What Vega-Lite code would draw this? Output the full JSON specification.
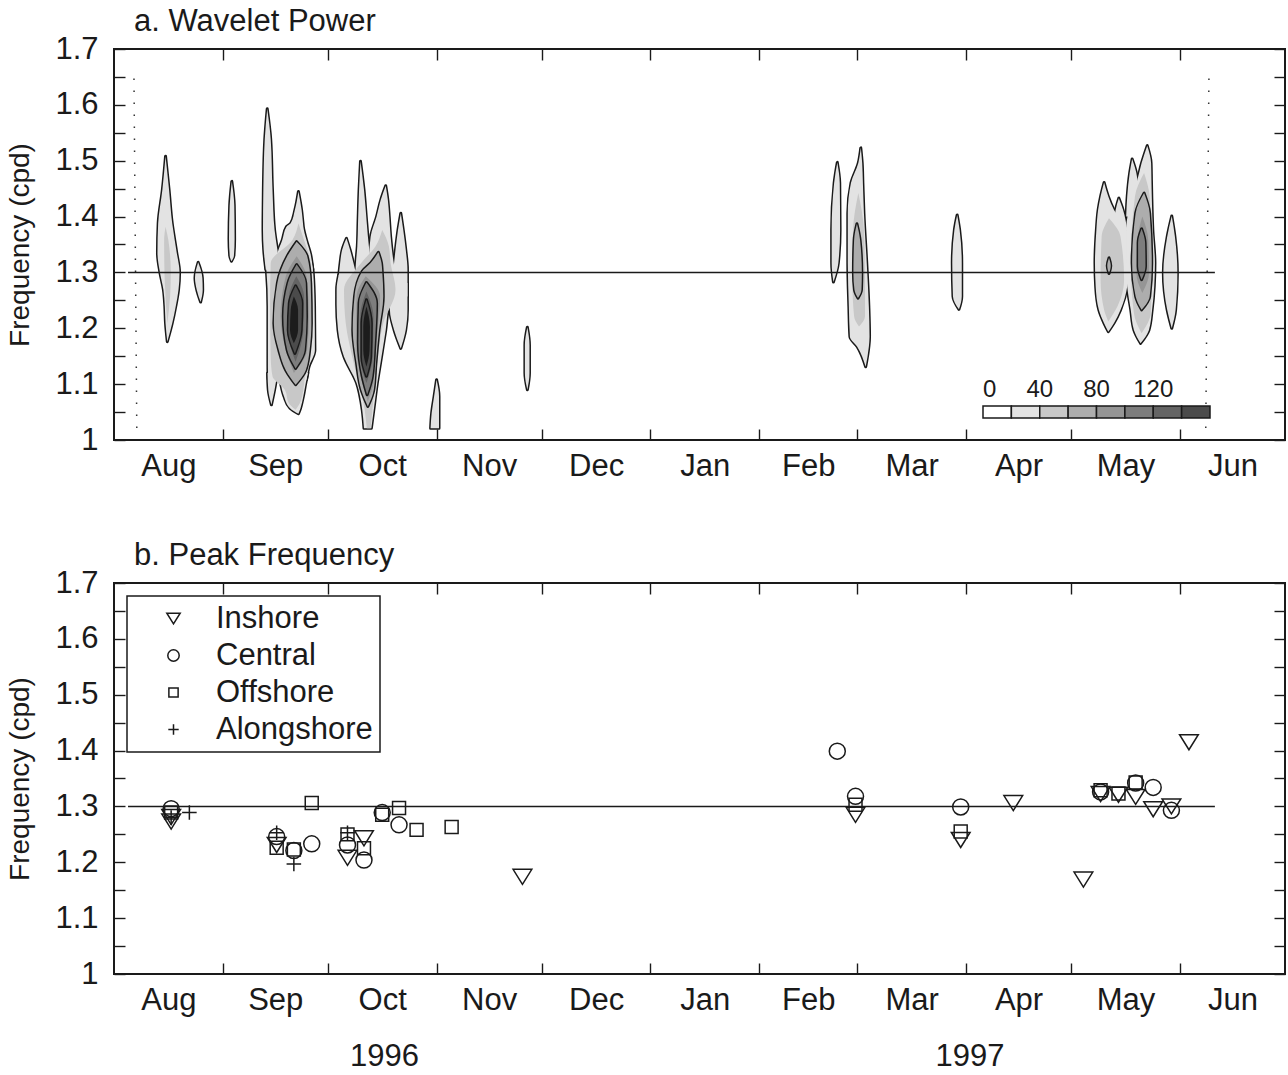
{
  "$schema": "https://vega.github.io/schema/vega-lite/v6.json",
  "background": "white",
  "padding": {"left": 5, "top": 5, "right": 0, "bottom": 0},
  "bounds": "flush",
  "spacing": 143,
  "config": {
    "font": "Liberation Sans",
    "view": {"stroke": "#1a1a1a", "strokeWidth": 2},
    "axis": {
      "domain": false, "grid": false, "ticks": true, "tickSize": -11, "tickWidth": 1.4, "tickColor": "#1a1a1a",
      "labelFont": "Liberation Sans", "labelFontSize": 31, "labelColor": "#1a1a1a", "labelFlush": false, "labelOverlap": false,
      "titleFont": "Liberation Sans", "titleFontSize": 28, "titleFontWeight": "normal", "titleColor": "#1a1a1a"
    },
    "title": {"font": "Liberation Sans", "fontSize": 31, "fontWeight": "normal", "color": "#1a1a1a", "anchor": "start", "frame": "group"},
    "legend": {"labelFont": "Liberation Sans", "labelColor": "#1a1a1a", "strokeWidth": 1.5}
  },
  "resolve": {"scale": {"fill": "independent", "shape": "independent"}, "legend": {"fill": "independent", "shape": "independent"}},
  "datasets": {
    "coi": [
      {"d0": 5.7, "d1": 6.5, "f0": 1.647, "f1": 1.021},
      {"d0": 312.3, "d1": 311.4, "f0": 1.647, "f1": 1.021}
    ],
    "ref": [{"d0": 4, "d1": 314, "f": 1.3}],
    "power": [
      {"id":"a1","p":30,"f":1.508,"t0":14.7,"t1":14.7},
      {"id":"a1","p":30,"f":1.448,"t0":13.8,"t1":15.7},
      {"id":"a1","p":30,"f":1.388,"t0":12.6,"t1":16.6},
      {"id":"a1","p":30,"f":1.335,"t0":12.4,"t1":17.9},
      {"id":"a1","p":30,"f":1.3,"t0":13.1,"t1":18.7},
      {"id":"a1","p":30,"f":1.269,"t0":14.1,"t1":18.4},
      {"id":"a1","p":30,"f":1.239,"t0":14.5,"t1":17.6},
      {"id":"a1","p":30,"f":1.209,"t0":14.7,"t1":16.6},
      {"id":"a1","p":30,"f":1.176,"t0":15.2,"t1":15.2},
      {"id":"a1","p":50,"f":1.382,"t0":14.7,"t1":14.7},
      {"id":"a1","p":50,"f":1.358,"t0":14.3,"t1":15.5},
      {"id":"a1","p":50,"f":1.3,"t0":14.4,"t1":16.2},
      {"id":"a1","p":50,"f":1.257,"t0":14.7,"t1":16.0},
      {"id":"a1","p":50,"f":1.209,"t0":15.2,"t1":15.2},
      {"id":"a2","p":30,"f":1.318,"t0":24.0,"t1":24.0},
      {"id":"a2","p":30,"f":1.29,"t0":23.1,"t1":25.2},
      {"id":"a2","p":30,"f":1.269,"t0":23.6,"t1":25.3},
      {"id":"a2","p":30,"f":1.247,"t0":24.7,"t1":24.7},
      {"id":"a3","p":30,"f":1.463,"t0":33.6,"t1":33.6},
      {"id":"a3","p":30,"f":1.42,"t0":33.0,"t1":34.3},
      {"id":"a3","p":30,"f":1.36,"t0":32.8,"t1":34.4},
      {"id":"a3","p":30,"f":1.33,"t0":33.0,"t1":34.2},
      {"id":"a3","p":30,"f":1.32,"t0":33.5,"t1":33.5},

      {"id":"s1","p":30,"f":1.593,"t0":43.7,"t1":43.7},
      {"id":"s1","p":30,"f":1.538,"t0":43.0,"t1":44.7},
      {"id":"s1","p":30,"f":1.448,"t0":42.6,"t1":45.2},
      {"id":"s1","p":30,"f":1.376,"t0":42.5,"t1":45.8},
      {"id":"s1","p":30,"f":1.341,"t0":42.7,"t1":46.6},
      {"id":"s1","p":30,"f":1.305,"t0":43.3,"t1":47.5},
      {"id":"s2","p":30,"f":1.445,"t0":52.6,"t1":52.6},
      {"id":"s2","p":30,"f":1.412,"t0":51.6,"t1":53.5},
      {"id":"s2","p":30,"f":1.388,"t0":50.4,"t1":53.9},
      {"id":"s2","p":30,"f":1.382,"t0":49.2,"t1":54.0},
      {"id":"s2","p":30,"f":1.358,"t0":48.0,"t1":54.9},
      {"id":"s2","p":30,"f":1.332,"t0":46.6,"t1":56.1},
      {"id":"s2","p":30,"f":1.305,"t0":46.4,"t1":56.7},
      {"id":"sb","p":30,"f":1.329,"t0":43.0,"t1":55.9},
      {"id":"sb","p":30,"f":1.301,"t0":43.5,"t1":56.8},
      {"id":"sb","p":30,"f":1.239,"t0":43.9,"t1":57.2},
      {"id":"sb","p":30,"f":1.161,"t0":43.9,"t1":57.3},
      {"id":"sb","p":30,"f":1.131,"t0":43.9,"t1":55.6},
      {"id":"sb","p":30,"f":1.108,"t0":44.0,"t1":54.9},
      {"id":"sl","p":30,"f":1.12,"t0":43.8,"t1":46.6},
      {"id":"sl","p":30,"f":1.09,"t0":44.0,"t1":45.8},
      {"id":"sl","p":30,"f":1.063,"t0":44.9,"t1":44.9},
      {"id":"sr","p":30,"f":1.12,"t0":47.0,"t1":55.3},
      {"id":"sr","p":30,"f":1.102,"t0":47.5,"t1":54.7},
      {"id":"sr","p":30,"f":1.078,"t0":48.5,"t1":54.0},
      {"id":"sr","p":30,"f":1.057,"t0":50.2,"t1":53.2},
      {"id":"sr","p":30,"f":1.047,"t0":52.6,"t1":52.6},
      {"id":"s","p":50,"f":1.388,"t0":52.6,"t1":52.6},
      {"id":"s","p":50,"f":1.358,"t0":50.9,"t1":54.2},
      {"id":"s","p":50,"f":1.317,"t0":44.7,"t1":56.1},
      {"id":"s","p":50,"f":1.239,"t0":44.5,"t1":56.8},
      {"id":"s","p":50,"f":1.149,"t0":44.7,"t1":56.0},
      {"id":"s","p":50,"f":1.114,"t0":45.2,"t1":54.5},
      {"id":"s","p":50,"f":1.09,"t0":48.7,"t1":54.0},
      {"id":"s","p":50,"f":1.066,"t0":49.9,"t1":53.0},
      {"id":"s","p":50,"f":1.054,"t0":51.8,"t1":51.8},
      {"id":"s","p":70,"f":1.355,"t0":52.1,"t1":52.1},
      {"id":"s","p":70,"f":1.329,"t0":49.4,"t1":55.1},
      {"id":"s","p":70,"f":1.281,"t0":46.6,"t1":56.1},
      {"id":"s","p":70,"f":1.209,"t0":45.6,"t1":56.3},
      {"id":"s","p":70,"f":1.161,"t0":47.0,"t1":55.8},
      {"id":"s","p":70,"f":1.125,"t0":49.0,"t1":54.7},
      {"id":"s","p":70,"f":1.099,"t0":51.8,"t1":51.8},
      {"id":"s","p":90,"f":1.329,"t0":52.1,"t1":52.1},
      {"id":"s","p":90,"f":1.293,"t0":49.0,"t1":54.9},
      {"id":"s","p":90,"f":1.221,"t0":47.5,"t1":55.6},
      {"id":"s","p":90,"f":1.161,"t0":49.0,"t1":55.1},
      {"id":"s","p":90,"f":1.12,"t0":51.3,"t1":51.3},
      {"id":"s","p":110,"f":1.314,"t0":52.1,"t1":52.1},
      {"id":"s","p":110,"f":1.281,"t0":49.6,"t1":54.7},
      {"id":"s","p":110,"f":1.221,"t0":48.3,"t1":54.9},
      {"id":"s","p":110,"f":1.161,"t0":49.4,"t1":54.4},
      {"id":"s","p":110,"f":1.128,"t0":51.8,"t1":51.8},
      {"id":"s","p":130,"f":1.293,"t0":52.0,"t1":52.0},
      {"id":"s","p":130,"f":1.257,"t0":49.9,"t1":54.2},
      {"id":"s","p":130,"f":1.197,"t0":49.6,"t1":54.0},
      {"id":"s","p":130,"f":1.14,"t0":51.8,"t1":51.8},
      {"id":"s","p":150,"f":1.276,"t0":51.8,"t1":51.8},
      {"id":"s","p":150,"f":1.245,"t0":50.0,"t1":53.6},
      {"id":"s","p":150,"f":1.197,"t0":49.7,"t1":53.4},
      {"id":"s","p":150,"f":1.155,"t0":51.6,"t1":51.6},
      {"id":"s","p":170,"f":1.257,"t0":51.3,"t1":51.3},
      {"id":"s","p":170,"f":1.233,"t0":50.4,"t1":52.5},
      {"id":"s","p":170,"f":1.197,"t0":50.2,"t1":52.5},
      {"id":"s","p":170,"f":1.173,"t0":51.3,"t1":51.3},

      {"id":"ol","p":30,"f":1.361,"t0":66.3,"t1":66.3},
      {"id":"ol","p":30,"f":1.341,"t0":65.1,"t1":67.3},
      {"id":"ol","p":30,"f":1.317,"t0":64.5,"t1":68.3},
      {"id":"ol","p":30,"f":1.293,"t0":64.1,"t1":69.2},
      {"id":"om","p":30,"f":1.499,"t0":70.3,"t1":70.3},
      {"id":"om","p":30,"f":1.448,"t0":69.9,"t1":71.3},
      {"id":"om","p":30,"f":1.388,"t0":69.6,"t1":72.1},
      {"id":"om","p":30,"f":1.347,"t0":69.4,"t1":72.7},
      {"id":"om","p":30,"f":1.317,"t0":69.0,"t1":73.4},
      {"id":"om","p":30,"f":1.293,"t0":68.8,"t1":74.1},
      {"id":"o8","p":30,"f":1.455,"t0":77.5,"t1":77.5},
      {"id":"o8","p":30,"f":1.43,"t0":76.1,"t1":78.1},
      {"id":"o8","p":30,"f":1.4,"t0":74.9,"t1":78.5},
      {"id":"o8","p":30,"f":1.364,"t0":73.2,"t1":78.9},
      {"id":"o8","p":30,"f":1.329,"t0":72.8,"t1":79.5},
      {"id":"o8","p":30,"f":1.293,"t0":72.8,"t1":80.4},
      {"id":"o9","p":30,"f":1.406,"t0":81.8,"t1":81.8},
      {"id":"o9","p":30,"f":1.376,"t0":81.0,"t1":82.5},
      {"id":"o9","p":30,"f":1.341,"t0":80.3,"t1":83.2},
      {"id":"o9","p":30,"f":1.305,"t0":79.7,"t1":83.7},
      {"id":"o9","p":30,"f":1.257,"t0":79.0,"t1":83.7},
      {"id":"ob","p":30,"f":1.296,"t0":64.1,"t1":82.7},
      {"id":"ob","p":30,"f":1.269,"t0":63.5,"t1":80.8},
      {"id":"ob","p":30,"f":1.242,"t0":63.5,"t1":78.5},
      {"id":"ob","p":30,"f":1.197,"t0":63.9,"t1":77.5},
      {"id":"ob","p":30,"f":1.149,"t0":65.6,"t1":76.3},
      {"id":"ob","p":30,"f":1.102,"t0":69.2,"t1":75.1},
      {"id":"ob","p":30,"f":1.054,"t0":70.8,"t1":74.1},
      {"id":"ob","p":30,"f":1.021,"t0":71.3,"t1":73.4},
      {"id":"or","p":30,"f":1.281,"t0":79.2,"t1":83.7},
      {"id":"or","p":30,"f":1.233,"t0":78.7,"t1":83.7},
      {"id":"or","p":30,"f":1.197,"t0":79.9,"t1":83.2},
      {"id":"or","p":30,"f":1.164,"t0":81.8,"t1":81.8},
      {"id":"o","p":50,"f":1.376,"t0":76.5,"t1":76.5},
      {"id":"o","p":50,"f":1.347,"t0":74.6,"t1":78.4},
      {"id":"o","p":50,"f":1.317,"t0":70.5,"t1":78.9},
      {"id":"o","p":50,"f":1.269,"t0":65.6,"t1":80.3},
      {"id":"o","p":50,"f":1.209,"t0":66.1,"t1":76.8},
      {"id":"o","p":50,"f":1.137,"t0":68.4,"t1":75.1},
      {"id":"o","p":50,"f":1.054,"t0":71.5,"t1":73.7},
      {"id":"o","p":50,"f":1.021,"t0":72.1,"t1":73.2},
      {"id":"o","p":70,"f":1.336,"t0":75.4,"t1":75.4},
      {"id":"o","p":70,"f":1.317,"t0":73.2,"t1":76.3},
      {"id":"o","p":70,"f":1.302,"t0":70.8,"t1":76.5},
      {"id":"o","p":70,"f":1.257,"t0":68.6,"t1":76.8},
      {"id":"o","p":70,"f":1.197,"t0":68.1,"t1":75.6},
      {"id":"o","p":70,"f":1.137,"t0":69.2,"t1":74.7},
      {"id":"o","p":70,"f":1.09,"t0":70.5,"t1":74.1},
      {"id":"o","p":70,"f":1.06,"t0":72.4,"t1":72.4},
      {"id":"o","p":90,"f":1.293,"t0":71.8,"t1":71.8},
      {"id":"o","p":90,"f":1.257,"t0":69.2,"t1":75.9},
      {"id":"o","p":90,"f":1.179,"t0":69.0,"t1":74.9},
      {"id":"o","p":90,"f":1.102,"t0":70.8,"t1":74.0},
      {"id":"o","p":90,"f":1.069,"t0":72.4,"t1":72.4},
      {"id":"o","p":110,"f":1.282,"t0":72.0,"t1":72.0},
      {"id":"o","p":110,"f":1.245,"t0":69.9,"t1":74.9},
      {"id":"o","p":110,"f":1.173,"t0":69.7,"t1":74.4},
      {"id":"o","p":110,"f":1.114,"t0":70.8,"t1":73.7},
      {"id":"o","p":110,"f":1.081,"t0":72.2,"t1":72.2},
      {"id":"o","p":130,"f":1.266,"t0":72.0,"t1":72.0},
      {"id":"o","p":130,"f":1.221,"t0":70.2,"t1":74.0},
      {"id":"o","p":130,"f":1.149,"t0":70.2,"t1":73.8},
      {"id":"o","p":130,"f":1.102,"t0":72.0,"t1":72.0},
      {"id":"o","p":150,"f":1.251,"t0":72.0,"t1":72.0},
      {"id":"o","p":150,"f":1.209,"t0":70.7,"t1":73.4},
      {"id":"o","p":150,"f":1.149,"t0":70.7,"t1":73.2},
      {"id":"o","p":150,"f":1.114,"t0":72.0,"t1":72.0},
      {"id":"o","p":170,"f":1.239,"t0":72.0,"t1":72.0},
      {"id":"o","p":170,"f":1.203,"t0":71.1,"t1":73.0},
      {"id":"o","p":170,"f":1.161,"t0":71.1,"t1":72.9},
      {"id":"o","p":170,"f":1.131,"t0":72.0,"t1":72.0},

      {"id":"n1","p":30,"f":1.108,"t0":92.0,"t1":92.0},
      {"id":"n1","p":30,"f":1.078,"t0":91.3,"t1":92.7},
      {"id":"n1","p":30,"f":1.048,"t0":90.6,"t1":92.7},
      {"id":"n1","p":30,"f":1.021,"t0":90.3,"t1":92.7},
      {"id":"n2","p":30,"f":1.202,"t0":117.9,"t1":117.9},
      {"id":"n2","p":30,"f":1.17,"t0":117.2,"t1":118.5},
      {"id":"n2","p":30,"f":1.12,"t0":117.2,"t1":118.5},
      {"id":"n2","p":30,"f":1.09,"t0":117.9,"t1":117.9},

      {"id":"f1","p":30,"f":1.497,"t0":206.3,"t1":206.3},
      {"id":"f1","p":30,"f":1.46,"t0":205.4,"t1":207.0},
      {"id":"f1","p":30,"f":1.376,"t0":204.7,"t1":207.1},
      {"id":"f1","p":30,"f":1.317,"t0":204.7,"t1":206.6},
      {"id":"f1","p":30,"f":1.283,"t0":205.2,"t1":205.2},
      {"id":"f2","p":30,"f":1.523,"t0":213.0,"t1":213.0},
      {"id":"f2","p":30,"f":1.496,"t0":212.3,"t1":213.4},
      {"id":"f2","p":30,"f":1.46,"t0":210.2,"t1":213.6},
      {"id":"f2","p":30,"f":1.406,"t0":209.3,"t1":213.9},
      {"id":"f2","p":30,"f":1.317,"t0":209.3,"t1":214.7},
      {"id":"f2","p":30,"f":1.239,"t0":209.6,"t1":215.3},
      {"id":"f2","p":30,"f":1.185,"t0":209.9,"t1":215.5},
      {"id":"f2","p":30,"f":1.167,"t0":212.0,"t1":215.3},
      {"id":"f2","p":30,"f":1.131,"t0":214.4,"t1":214.4},
      {"id":"f2","p":50,"f":1.442,"t0":212.3,"t1":212.3},
      {"id":"f2","p":50,"f":1.376,"t0":210.8,"t1":213.9},
      {"id":"f2","p":50,"f":1.287,"t0":210.6,"t1":214.2},
      {"id":"f2","p":50,"f":1.221,"t0":211.1,"t1":214.2},
      {"id":"f2","p":50,"f":1.203,"t0":212.5,"t1":212.5},
      {"id":"f2","p":70,"f":1.387,"t0":211.9,"t1":211.9},
      {"id":"f2","p":70,"f":1.358,"t0":211.1,"t1":212.8},
      {"id":"f2","p":70,"f":1.299,"t0":210.9,"t1":213.3},
      {"id":"f2","p":70,"f":1.269,"t0":211.2,"t1":213.2},
      {"id":"f2","p":70,"f":1.254,"t0":212.2,"t1":212.2},

      {"id":"m1","p":30,"f":1.403,"t0":240.5,"t1":240.5},
      {"id":"m1","p":30,"f":1.376,"t0":239.7,"t1":241.2},
      {"id":"m1","p":30,"f":1.317,"t0":239.1,"t1":241.8},
      {"id":"m1","p":30,"f":1.257,"t0":239.3,"t1":241.8},
      {"id":"m1","p":30,"f":1.234,"t0":241.0,"t1":241.0},

      {"id":"yl","p":30,"f":1.461,"t0":282.4,"t1":282.4},
      {"id":"yl","p":30,"f":1.436,"t0":281.4,"t1":283.6},
      {"id":"yl","p":30,"f":1.412,"t0":280.7,"t1":285.2},
      {"id":"yl","p":30,"f":1.376,"t0":280.2,"t1":288.9},
      {"id":"yl","p":30,"f":1.317,"t0":279.8,"t1":289.5},
      {"id":"yl","p":30,"f":1.275,"t0":280.0,"t1":289.0},
      {"id":"yl","p":30,"f":1.233,"t0":280.9,"t1":287.1},
      {"id":"yl","p":30,"f":1.209,"t0":282.4,"t1":285.2},
      {"id":"yl","p":30,"f":1.194,"t0":283.6,"t1":283.6},
      {"id":"yb","p":30,"f":1.433,"t0":286.6,"t1":286.6},
      {"id":"yb","p":30,"f":1.412,"t0":285.7,"t1":287.8},
      {"id":"yb","p":30,"f":1.376,"t0":285.2,"t1":289.0},
      {"id":"yt","p":30,"f":1.503,"t0":290.4,"t1":290.4},
      {"id":"yt","p":30,"f":1.478,"t0":289.7,"t1":291.6},
      {"id":"yt","p":30,"f":1.436,"t0":289.0,"t1":292.3},
      {"id":"yt","p":30,"f":1.4,"t0":288.7,"t1":293.0},
      {"id":"yr","p":30,"f":1.527,"t0":294.7,"t1":294.7},
      {"id":"yr","p":30,"f":1.496,"t0":293.1,"t1":295.8},
      {"id":"yr","p":30,"f":1.466,"t0":291.9,"t1":295.9},
      {"id":"yr","p":30,"f":1.436,"t0":290.4,"t1":296.0},
      {"id":"yr","p":30,"f":1.376,"t0":288.7,"t1":296.3},
      {"id":"yr","p":30,"f":1.317,"t0":288.7,"t1":296.9},
      {"id":"yr","p":30,"f":1.275,"t0":289.0,"t1":296.7},
      {"id":"yr","p":30,"f":1.233,"t0":290.0,"t1":296.1},
      {"id":"yr","p":30,"f":1.197,"t0":290.9,"t1":295.2},
      {"id":"yr","p":30,"f":1.173,"t0":292.8,"t1":292.8},
      {"id":"yl","p":50,"f":1.397,"t0":283.8,"t1":283.8},
      {"id":"yl","p":50,"f":1.364,"t0":281.7,"t1":287.1},
      {"id":"yl","p":50,"f":1.287,"t0":281.4,"t1":288.1},
      {"id":"yl","p":50,"f":1.233,"t0":282.4,"t1":285.7},
      {"id":"yl","p":50,"f":1.212,"t0":283.6,"t1":283.6},
      {"id":"yr","p":50,"f":1.478,"t0":293.8,"t1":293.8},
      {"id":"yr","p":50,"f":1.436,"t0":291.2,"t1":295.4},
      {"id":"yr","p":50,"f":1.317,"t0":290.0,"t1":296.1},
      {"id":"yr","p":50,"f":1.227,"t0":290.9,"t1":295.7},
      {"id":"yr","p":50,"f":1.191,"t0":293.1,"t1":293.1},
      {"id":"yr","p":70,"f":1.442,"t0":293.8,"t1":293.8},
      {"id":"yr","p":70,"f":1.406,"t0":291.4,"t1":295.4},
      {"id":"yr","p":70,"f":1.317,"t0":290.4,"t1":296.0},
      {"id":"yr","p":70,"f":1.257,"t0":291.4,"t1":295.4},
      {"id":"yr","p":70,"f":1.233,"t0":293.1,"t1":293.1},
      {"id":"ys","p":70,"f":1.326,"t0":283.8,"t1":283.8},
      {"id":"ys","p":70,"f":1.312,"t0":283.3,"t1":284.3},
      {"id":"ys","p":70,"f":1.298,"t0":283.8,"t1":283.8},
      {"id":"yr","p":90,"f":1.4,"t0":293.3,"t1":293.3},
      {"id":"yr","p":90,"f":1.358,"t0":291.9,"t1":295.0},
      {"id":"yr","p":90,"f":1.299,"t0":291.6,"t1":295.2},
      {"id":"yr","p":90,"f":1.263,"t0":293.3,"t1":293.3},
      {"id":"yr","p":110,"f":1.378,"t0":293.1,"t1":293.1},
      {"id":"yr","p":110,"f":1.353,"t0":292.1,"t1":294.1},
      {"id":"yr","p":110,"f":1.311,"t0":292.1,"t1":294.2},
      {"id":"yr","p":110,"f":1.287,"t0":293.1,"t1":293.1},
      {"id":"yx","p":30,"f":1.401,"t0":301.7,"t1":301.7},
      {"id":"yx","p":30,"f":1.364,"t0":300.4,"t1":302.6},
      {"id":"yx","p":30,"f":1.299,"t0":299.3,"t1":303.3},
      {"id":"yx","p":30,"f":1.233,"t0":300.4,"t1":302.8},
      {"id":"yx","p":30,"f":1.2,"t0":301.7,"t1":301.7}
    ],
    "peaks": [
      {"loc":"Inshore","day":16.3,"f":1.281},
      {"loc":"Inshore","day":16.3,"f":1.273},
      {"loc":"Inshore","day":46.4,"f":1.231},
      {"loc":"Inshore","day":66.6,"f":1.208},
      {"loc":"Inshore","day":71.3,"f":1.243},
      {"loc":"Inshore","day":116.5,"f":1.174},
      {"loc":"Inshore","day":211.5,"f":1.285},
      {"loc":"Inshore","day":241.5,"f":1.24},
      {"loc":"Inshore","day":256.5,"f":1.306},
      {"loc":"Inshore","day":276.5,"f":1.169},
      {"loc":"Inshore","day":281.4,"f":1.322},
      {"loc":"Inshore","day":286.5,"f":1.321},
      {"loc":"Inshore","day":291.4,"f":1.317},
      {"loc":"Inshore","day":296.4,"f":1.295},
      {"loc":"Inshore","day":301.6,"f":1.3},
      {"loc":"Inshore","day":306.6,"f":1.415},
      {"loc":"Central","day":16.3,"f":1.296},
      {"loc":"Central","day":46.4,"f":1.246},
      {"loc":"Central","day":51.3,"f":1.221},
      {"loc":"Central","day":56.4,"f":1.233},
      {"loc":"Central","day":66.6,"f":1.231},
      {"loc":"Central","day":71.3,"f":1.204},
      {"loc":"Central","day":76.5,"f":1.289},
      {"loc":"Central","day":81.3,"f":1.267},
      {"loc":"Central","day":206.3,"f":1.399},
      {"loc":"Central","day":211.5,"f":1.318},
      {"loc":"Central","day":241.5,"f":1.299},
      {"loc":"Central","day":281.4,"f":1.326},
      {"loc":"Central","day":291.4,"f":1.342},
      {"loc":"Central","day":296.4,"f":1.334},
      {"loc":"Central","day":301.6,"f":1.293},
      {"loc":"Offshore","day":16.3,"f":1.289},
      {"loc":"Offshore","day":46.4,"f":1.226},
      {"loc":"Offshore","day":51.3,"f":1.223},
      {"loc":"Offshore","day":56.4,"f":1.306},
      {"loc":"Offshore","day":66.6,"f":1.25},
      {"loc":"Offshore","day":71.3,"f":1.225},
      {"loc":"Offshore","day":76.5,"f":1.285},
      {"loc":"Offshore","day":81.3,"f":1.297},
      {"loc":"Offshore","day":86.3,"f":1.258},
      {"loc":"Offshore","day":96.3,"f":1.263},
      {"loc":"Offshore","day":211.5,"f":1.303},
      {"loc":"Offshore","day":241.5,"f":1.255},
      {"loc":"Offshore","day":281.4,"f":1.329},
      {"loc":"Offshore","day":286.5,"f":1.323},
      {"loc":"Offshore","day":291.4,"f":1.343},
      {"loc":"Alongshore","day":16.3,"f":1.28},
      {"loc":"Alongshore","day":21.5,"f":1.289},
      {"loc":"Alongshore","day":46.4,"f":1.253},
      {"loc":"Alongshore","day":51.3,"f":1.197},
      {"loc":"Alongshore","day":66.6,"f":1.253}
    ]
  },
  "vconcat": [
    {
      "width": 1171,
      "height": 391,
      "title": {"text": "a. Wavelet Power", "dx": 20, "offset": -5},
      "resolve": {"axis": {"x": "independent", "y": "independent"}},
      "layer": [
        {
          "data": {"name": "coi"},
          "mark": {"type": "rule", "strokeDash": [1.5, 10.5], "strokeWidth": 1.5, "color": "#333333"},
          "encoding": {
            "x": {"field": "d0", "type": "quantitative", "scale": {"domain": [0, 334], "nice": false, "zero": false},
                  "axis": {"orient": "top", "title": null, "labels": false, "values": [31,61,92,122,153,184,212,243,273,304]}},
            "x2": {"field": "d1"},
            "y": {"field": "f0", "type": "quantitative", "scale": {"domain": [1, 1.7], "nice": false, "zero": false},
                  "axis": {"orient": "right", "title": null, "labels": false, "values": [1,1.05,1.1,1.15,1.2,1.25,1.3,1.35,1.4,1.45,1.5,1.55,1.6,1.65,1.7]}},
            "y2": {"field": "f1"}
          }
        },
        {
          "data": {"name": "power"},
          "transform": [{"filter": "datum.p == 30"}],
          "mark": {"type": "area", "orient": "horizontal", "interpolate": "monotone", "fill": "transparent", "stroke": "#1a1a1a", "strokeWidth": 3, "strokeJoin": "round"},
          "encoding": {
            "y": {"field": "f", "type": "quantitative", "axis": null},
            "x": {"field": "t0", "type": "quantitative", "axis": null, "stack": null},
            "x2": {"field": "t1"},
            "detail": {"field": "id"}
          }
        },
        {
          "data": {"name": "power"},
          "transform": [{"filter": "datum.p == 30"}],
          "mark": {"type": "area", "orient": "horizontal", "interpolate": "monotone"},
          "encoding": {
            "y": {"field": "f", "type": "quantitative", "axis": null},
            "x": {"field": "t0", "type": "quantitative", "axis": null, "stack": null},
            "x2": {"field": "t1"},
            "detail": {"field": "id"},
            "fill": {"field": "p", "type": "quantitative",
                     "scale": {"type": "quantize", "domain": [0, 160], "nice": false, "range": ["#ffffff","#e3e3e3","#c8c8c8","#adadad","#959595","#7d7d7d","#646464","#4b4b4b"]},
                     "legend": {"type": "gradient", "direction": "horizontal", "orient": "none", "legendX": 869, "legendY": 357, "title": null, "padding": 0,
                                "gradientLength": 227, "gradientThickness": 12, "gradientStrokeColor": "#1a1a1a", "gradientStrokeWidth": 1.5,
                                "labelFontSize": 24, "labelOffset": -40, "labelAlign": "center",
                                "labelExpr": "datum.value < 20 ? '0' : indexof([40, 80, 120], datum.value) >= 0 ? datum.label : ''"}}
          }
        },
        {
          "data": {"name": "power"},
          "transform": [{"filter": "datum.p == 50"}],
          "mark": {"type": "area", "orient": "horizontal", "interpolate": "monotone"},
          "encoding": {
            "y": {"field": "f", "type": "quantitative", "axis": null},
            "x": {"field": "t0", "type": "quantitative", "axis": null, "stack": null},
            "x2": {"field": "t1"},
            "detail": {"field": "id"},
            "fill": {"field": "p", "type": "quantitative", "legend": null,
                     "scale": {"type": "quantize", "domain": [0, 160], "nice": false, "range": ["#ffffff","#e3e3e3","#c8c8c8","#adadad","#959595","#7d7d7d","#646464","#4b4b4b"]}}
          }
        },
        {
          "data": {"name": "power"},
          "transform": [{"filter": "datum.p == 70"}],
          "mark": {"type": "area", "orient": "horizontal", "interpolate": "monotone", "fill": "transparent", "stroke": "#1a1a1a", "strokeWidth": 3, "strokeJoin": "round"},
          "encoding": {
            "y": {"field": "f", "type": "quantitative", "axis": null},
            "x": {"field": "t0", "type": "quantitative", "axis": null, "stack": null},
            "x2": {"field": "t1"},
            "detail": {"field": "id"}
          }
        },
        {
          "data": {"name": "power"},
          "transform": [{"filter": "datum.p == 70"}],
          "mark": {"type": "area", "orient": "horizontal", "interpolate": "monotone"},
          "encoding": {
            "y": {"field": "f", "type": "quantitative", "axis": null},
            "x": {"field": "t0", "type": "quantitative", "axis": null, "stack": null},
            "x2": {"field": "t1"},
            "detail": {"field": "id"},
            "fill": {"field": "p", "type": "quantitative", "legend": null,
                     "scale": {"type": "quantize", "domain": [0, 160], "nice": false, "range": ["#ffffff","#e3e3e3","#c8c8c8","#adadad","#959595","#7d7d7d","#646464","#4b4b4b"]}}
          }
        },
        {
          "data": {"name": "power"},
          "transform": [{"filter": "datum.p == 90"}],
          "mark": {"type": "area", "orient": "horizontal", "interpolate": "monotone"},
          "encoding": {
            "y": {"field": "f", "type": "quantitative", "axis": null},
            "x": {"field": "t0", "type": "quantitative", "axis": null, "stack": null},
            "x2": {"field": "t1"},
            "detail": {"field": "id"},
            "fill": {"field": "p", "type": "quantitative", "legend": null,
                     "scale": {"type": "quantize", "domain": [0, 160], "nice": false, "range": ["#ffffff","#e3e3e3","#c8c8c8","#adadad","#959595","#7d7d7d","#646464","#4b4b4b"]}}
          }
        },
        {
          "data": {"name": "power"},
          "transform": [{"filter": "datum.p == 110"}],
          "mark": {"type": "area", "orient": "horizontal", "interpolate": "monotone", "fill": "transparent", "stroke": "#1a1a1a", "strokeWidth": 3, "strokeJoin": "round"},
          "encoding": {
            "y": {"field": "f", "type": "quantitative", "axis": null},
            "x": {"field": "t0", "type": "quantitative", "axis": null, "stack": null},
            "x2": {"field": "t1"},
            "detail": {"field": "id"}
          }
        },
        {
          "data": {"name": "power"},
          "transform": [{"filter": "datum.p == 110"}],
          "mark": {"type": "area", "orient": "horizontal", "interpolate": "monotone"},
          "encoding": {
            "y": {"field": "f", "type": "quantitative", "axis": null},
            "x": {"field": "t0", "type": "quantitative", "axis": null, "stack": null},
            "x2": {"field": "t1"},
            "detail": {"field": "id"},
            "fill": {"field": "p", "type": "quantitative", "legend": null,
                     "scale": {"type": "quantize", "domain": [0, 160], "nice": false, "range": ["#ffffff","#e3e3e3","#c8c8c8","#adadad","#959595","#7d7d7d","#646464","#4b4b4b"]}}
          }
        },
        {
          "data": {"name": "power"},
          "transform": [{"filter": "datum.p == 130"}],
          "mark": {"type": "area", "orient": "horizontal", "interpolate": "monotone"},
          "encoding": {
            "y": {"field": "f", "type": "quantitative", "axis": null},
            "x": {"field": "t0", "type": "quantitative", "axis": null, "stack": null},
            "x2": {"field": "t1"},
            "detail": {"field": "id"},
            "fill": {"field": "p", "type": "quantitative", "legend": null,
                     "scale": {"type": "quantize", "domain": [0, 160], "nice": false, "range": ["#ffffff","#e3e3e3","#c8c8c8","#adadad","#959595","#7d7d7d","#646464","#4b4b4b"]}}
          }
        },
        {
          "data": {"name": "power"},
          "transform": [{"filter": "datum.p == 150"}],
          "mark": {"type": "area", "orient": "horizontal", "interpolate": "monotone", "fill": "transparent", "stroke": "#1a1a1a", "strokeWidth": 3, "strokeJoin": "round"},
          "encoding": {
            "y": {"field": "f", "type": "quantitative", "axis": null},
            "x": {"field": "t0", "type": "quantitative", "axis": null, "stack": null},
            "x2": {"field": "t1"},
            "detail": {"field": "id"}
          }
        },
        {
          "data": {"name": "power"},
          "transform": [{"filter": "datum.p == 150"}],
          "mark": {"type": "area", "orient": "horizontal", "interpolate": "monotone"},
          "encoding": {
            "y": {"field": "f", "type": "quantitative", "axis": null},
            "x": {"field": "t0", "type": "quantitative", "axis": null, "stack": null},
            "x2": {"field": "t1"},
            "detail": {"field": "id"},
            "fill": {"field": "p", "type": "quantitative", "legend": null,
                     "scale": {"type": "quantize", "domain": [0, 160], "nice": false, "range": ["#ffffff","#e3e3e3","#c8c8c8","#adadad","#959595","#7d7d7d","#646464","#4b4b4b"]}}
          }
        },
        {
          "data": {"name": "power"},
          "transform": [{"filter": "datum.p == 170"}],
          "mark": {"type": "area", "orient": "horizontal", "interpolate": "monotone", "fill": "#1c1c1c"},
          "encoding": {
            "y": {"field": "f", "type": "quantitative", "axis": null},
            "x": {"field": "t0", "type": "quantitative", "axis": null, "stack": null},
            "x2": {"field": "t1"},
            "detail": {"field": "id"}
          }
        },
        {
          "data": {"name": "ref"},
          "mark": {"type": "rule", "color": "#1a1a1a", "strokeWidth": 1.5},
          "encoding": {
            "x": {"field": "d0", "type": "quantitative",
                  "axis": {"orient": "bottom", "title": null, "labelPadding": 22,
                           "values": [15.5,31,46,61,76.5,92,107,122,137.5,153,168.5,184,198,212,227.5,243,258,273,288.5,304,319],
                           "labelExpr": "indexof([15.5,46,76.5,107,137.5,168.5,198,227.5,258,288.5,319], datum.value) >= 0 ? ['Aug','Sep','Oct','Nov','Dec','Jan','Feb','Mar','Apr','May','Jun'][indexof([15.5,46,76.5,107,137.5,168.5,198,227.5,258,288.5,319], datum.value)] : ''",
                           "tickOpacity": {"condition": {"test": "indexof([31,61,92,122,153,184,212,243,273,304], datum.value) >= 0", "value": 1}, "value": 0}}},
            "x2": {"field": "d1"},
            "y": {"field": "f", "type": "quantitative",
                  "axis": {"orient": "left", "title": "Frequency (cpd)", "labelPadding": 27, "titlePadding": 20,
                           "values": [1,1.05,1.1,1.15,1.2,1.25,1.3,1.35,1.4,1.45,1.5,1.55,1.6,1.65,1.7],
                           "labelExpr": "abs(datum.value * 10 - round(datum.value * 10)) < 0.001 ? (datum.value == 1 ? '1' : format(datum.value, '.1f')) : ''"}}
          }
        }
      ]
    },
    {
      "width": 1171,
      "height": 391,
      "title": {"text": "b. Peak Frequency", "dx": 20, "offset": -5},
      "resolve": {"axis": {"x": "independent", "y": "independent"}},
      "layer": [
        {
          "data": {"name": "ref"},
          "mark": {"type": "rule", "color": "#1a1a1a", "strokeWidth": 1.5},
          "encoding": {
            "x": {"field": "d0", "type": "quantitative", "scale": {"domain": [0, 334], "nice": false, "zero": false},
                  "axis": {"orient": "top", "title": null, "labels": false, "values": [31,61,92,122,153,184,212,243,273,304]}},
            "x2": {"field": "d1"},
            "y": {"field": "f", "type": "quantitative", "scale": {"domain": [1, 1.7], "nice": false, "zero": false},
                  "axis": {"orient": "right", "title": null, "labels": false, "values": [1,1.05,1.1,1.15,1.2,1.25,1.3,1.35,1.4,1.45,1.5,1.55,1.6,1.65,1.7]}}
          }
        },
        {
          "data": {"name": "peaks"},
          "mark": {"type": "point", "filled": false, "size": 256, "strokeWidth": 1.5, "color": "#1a1a1a", "opacity": 1},
          "encoding": {
            "x": {"field": "day", "type": "quantitative",
                  "axis": {"orient": "bottom", "title": null, "labelPadding": 22, "labelLineHeight": 56,
                           "values": [15.5,31,46,61,76.5,77,92,107,122,137.5,153,168.5,184,198,212,227.5,243,244,258,273,288.5,304,319],
                           "labelExpr": "datum.value == 77 ? ['', '1996'] : datum.value == 244 ? ['', '1997'] : indexof([15.5,46,76.5,107,137.5,168.5,198,227.5,258,288.5,319], datum.value) >= 0 ? ['Aug','Sep','Oct','Nov','Dec','Jan','Feb','Mar','Apr','May','Jun'][indexof([15.5,46,76.5,107,137.5,168.5,198,227.5,258,288.5,319], datum.value)] : ''",
                           "tickOpacity": {"condition": {"test": "indexof([31,61,92,122,153,184,212,243,273,304], datum.value) >= 0", "value": 1}, "value": 0}}},
            "y": {"field": "f", "type": "quantitative",
                  "axis": {"orient": "left", "title": "Frequency (cpd)", "labelPadding": 27, "titlePadding": 20,
                           "values": [1,1.05,1.1,1.15,1.2,1.25,1.3,1.35,1.4,1.45,1.5,1.55,1.6,1.65,1.7],
                           "labelExpr": "abs(datum.value * 10 - round(datum.value * 10)) < 0.001 ? (datum.value == 1 ? '1' : format(datum.value, '.1f')) : ''"}},
            "shape": {"field": "loc", "type": "nominal",
                      "scale": {"domain": ["Inshore", "Central", "Offshore", "Alongshore"],
                                "range": ["M -1.17 -0.94 L 1.17 -0.94 L 0 0.94 Z", "circle", "M -0.81 -0.81 L 0.81 -0.81 L 0.81 0.81 L -0.81 0.81 Z", "M -0.91 0 L 0.91 0 M 0 -0.91 L 0 0.91"]},
                      "legend": {"orient": "top-left", "offset": 13, "title": null, "padding": 7, "rowPadding": 5,
                                 "strokeColor": "#1a1a1a", "labelFontSize": 31, "symbolSize": 130, "symbolStrokeWidth": 1.5,
                                 "symbolStrokeColor": "#1a1a1a", "symbolFillColor": "transparent", "symbolOffset": 24, "labelOffset": 27}}
          }
        }
      ]
    }
  ]
}
